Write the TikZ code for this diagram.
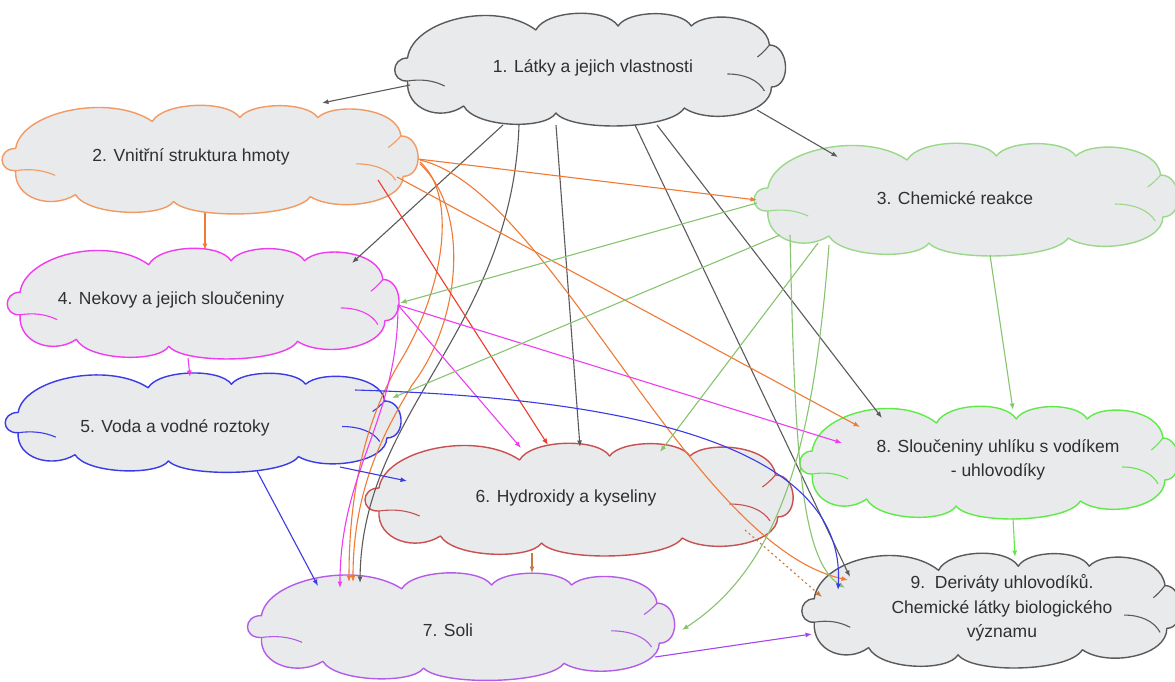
\documentclass[tikz,border=0pt]{standalone}
\usepackage{fontspec}
\setmainfont{Liberation Sans}
\usetikzlibrary{arrows.meta}
\definecolor{cfill}{HTML}{E9EAEC}
\definecolor{cgray}{HTML}{5A5A5A}
\definecolor{corange}{HTML}{F07A35}
\definecolor{corangeb}{HTML}{F29A62}
\definecolor{cred}{HTML}{EE3B2B}
\definecolor{cmag}{HTML}{F03CF0}
\definecolor{clgreen}{HTML}{88C470}
\definecolor{clgreenb}{HTML}{9AD88A}
\definecolor{cblue}{HTML}{3A3AE6}
\definecolor{cbrown}{HTML}{C67A40}
\definecolor{cpurple}{HTML}{A445EE}
\definecolor{cpurpleb}{HTML}{B45CEA}
\definecolor{cbgreen}{HTML}{5EEB48}
\definecolor{cbrownred}{HTML}{C85050}
\definecolor{ctext}{HTML}{303030}
\tikzset{
  cloudline/.style={line width=1.4pt, line join=round},
  lbl/.style={text=ctext, font=\fontsize{17.5}{24.5}\selectfont, align=center, inner sep=0pt},
  conn/.style={line width=1.1pt, -{Latex[length=6.5pt,width=5pt]}},
}
% #1 name, #2 colour, #3 cx, #4 cy, #5 width, #6 height
\newcommand{\cloudnode}[6]{%
  \node[inner sep=0pt, minimum width=#5pt, minimum height=#6pt] (#1) at (#3,#4) {};
  \begin{scope}[shift={(#3,#4)}, xscale=#5/386, yscale=#6/110]
    \draw[cloudline, draw=#2, fill=cfill]
      (-183,-12) .. controls (-178,-50) and (-95,-70) .. (-55,-40)
      .. controls (-45,-60) and (15,-63) .. (27,-44)
      .. controls (37,-60) and (90,-61) .. (100,-44)
      .. controls (115,-60) and (175,-55) .. (178,-25)
      .. controls (198,-25) and (200,17) .. (180,17)
      .. controls (180,45) and (118,55) .. (93,38)
      .. controls (80,60) and (-20,62) .. (-35,43)
      .. controls (-45,60) and (-115,58) .. (-127,36)
      .. controls (-150,52) and (-185,40) .. (-183,11)
      .. controls (-200,12) and (-200,-12) .. (-183,-12) -- cycle;
    \draw[line width=1.1pt, draw=#2] (-183,11) .. controls (-170,9) and (-158,10) .. (-146,16);
    \draw[line width=1.1pt, draw=#2] (136,4) .. controls (153,4) and (167,10) .. (173,21);
    \draw[line width=1.1pt, draw=#2] (178,-25) .. controls (174,-20) and (170,-16) .. (166,-13);
  \end{scope}}
\begin{document}
\begin{tikzpicture}[x=1pt,y=-1pt]
\fill[white] (0,0) rectangle (1175,682);
\useasboundingbox (0,0) rectangle (1175,682);
% clouds
\cloudnode{n1}{cgray}{591}{70}{387}{110}
\cloudnode{n2}{corangeb}{211}{160}{412}{106}
\cloudnode{n3}{clgreenb}{967}{200}{420}{110}
\cloudnode{n4}{cmag}{204}{304}{388}{108}
\cloudnode{n5}{cblue}{204}{423}{392}{97}
\cloudnode{n6}{cbrownred}{580}{500}{424}{110}
\cloudnode{n7}{cpurpleb}{462}{627}{423}{105}
\cloudnode{n8}{cbgreen}{990}{463}{375}{110}
\cloudnode{n9}{cgray}{992}{611}{375}{112}
% connectors from 1
\draw[conn,cgray] ([shift={(-181,15)}]n1.center) -- ([shift={(111,-57)}]n2.center);
\draw[conn,cgray] ([shift={(166,40)}]n1.center) -- ([shift={(-129,-43)}]n3.center);
\draw[conn,cgray] ([shift={(-88,55)}]n1.center) -- ([shift={(148,-41)}]n4.center);
\draw[conn,cgray] ([shift={(-72,55)}]n1.center) .. controls (512,330) and (362,410) .. ([shift={(-102,-44)}]n7.center);
\draw[conn,cgray] ([shift={(-35,55)}]n1.center) -- ([shift={(0,-53)}]n6.center);
\draw[conn,cgray] ([shift={(66,55)}]n1.center) -- ([shift={(-108,-45)}]n8.center);
\draw[conn,cgray] ([shift={(44,55)}]n1.center) -- ([shift={(-142,-34)}]n9.center);
% connectors from 2
\draw[conn,corange] ([shift={(207,-1)}]n2.center) -- ([shift={(-210,0)}]n3.center);
\draw[conn,corange] ([shift={(-6,53)}]n2.center) -- ([shift={(1,-54)}]n4.center);
\draw[conn,corange] ([shift={(186,17)}]n2.center) -- ([shift={(-130,-36)}]n8.center);
\draw[conn,corange] ([shift={(209,0)}]n2.center) .. controls (550,190) and (690,545) .. ([shift={(-144,-31)}]n9.center);
\draw[conn,corange] ([shift={(209,2)}]n2.center) .. controls (458,195) and (445,290) .. (398,365) .. controls (375,405) and (349,470) .. ([shift={(-113,-45)}]n7.center);
\draw[conn,corange] ([shift={(209,4)}]n2.center) .. controls (470,210) and (462,320) .. (412,385) .. controls (392,420) and (353,480) .. ([shift={(-109,-45)}]n7.center);
\draw[conn,cred] ([shift={(167,20)}]n2.center) -- ([shift={(-32,-55)}]n6.center);
% connectors from 4
\draw[conn,cmag] ([shift={(-16,54)}]n4.center) -- ([shift={(-14,-46)}]n5.center);
\draw[conn,cmag] ([shift={(194,1)}]n4.center) -- ([shift={(-59,-52)}]n6.center);
\draw[conn,cmag] ([shift={(194,1)}]n4.center) -- ([shift={(-148,-20)}]n8.center);
\draw[conn,cmag] ([shift={(194,1)}]n4.center) .. controls (398,420) and (340,470) .. ([shift={(-122,-39)}]n7.center);
% connectors from 3
\draw[conn,clgreen] ([shift={(-210,3)}]n3.center) -- ([shift={(196,-1)}]n4.center);
\draw[conn,clgreen] ([shift={(-187,35)}]n3.center) -- ([shift={(188,-25)}]n5.center);
\draw[conn,clgreen] ([shift={(-149,43)}]n3.center) -- ([shift={(80,-48)}]n6.center);
\draw[conn,clgreen] ([shift={(-138,45)}]n3.center) .. controls (815,420) and (790,560) .. ([shift={(220,3)}]n7.center);
\draw[conn,clgreen] ([shift={(-177,35)}]n3.center) .. controls (795,450) and (800,560) .. ([shift={(-147,-23)}]n9.center);
\draw[conn,clgreen] ([shift={(23,55)}]n3.center) -- ([shift={(23,-53)}]n8.center);
% connectors from 5
\draw[conn,cblue] ([shift={(136,44)}]n5.center) -- ([shift={(-173,-19)}]n6.center);
\draw[conn,cblue] ([shift={(53,48)}]n5.center) -- ([shift={(-144,-41)}]n7.center);
\draw[conn,cblue] ([shift={(151,-33)}]n5.center) .. controls (700,400) and (845,470) .. ([shift={(-154,-21)}]n9.center);
% connectors from 6, 7, 8
\draw[conn,cbrown] ([shift={(-48,53)}]n6.center) -- ([shift={(70,-54)}]n7.center);
\draw[conn,cbrown,dash pattern=on 2pt off 3pt] ([shift={(165,30)}]n6.center) -- ([shift={(-170,-14)}]n9.center);
\draw[conn,cpurple] ([shift={(193,30)}]n7.center) -- ([shift={(-180,23)}]n9.center);
\draw[conn,cbgreen] ([shift={(23,55)}]n8.center) -- ([shift={(23,-54)}]n9.center);
% texts
\node[lbl] (t1) at (593,68) {1. Látky a jejich vlastnosti};
\node[lbl] (t2) at (191,157) {2. Vnitřní struktura hmoty};
\node[lbl] (t3) at (955,198) {3. Chemické reakce};
\node[lbl] (t4) at (171,300) {4. Nekovy a jejich sloučeniny};
\node[lbl] (t5) at (175,428) {5. Voda a vodné roztoky};
\node[lbl] (t6) at (566,498) {6. Hydroxidy a kyseliny};
\node[lbl] (t7) at (448,630) {7. Soli};
\node[lbl] (t8) at (998,460) {8. Sloučeniny uhlíku s vodíkem\\- uhlovodíky};
\node[lbl] (t9) at (1002,608) {9.\ \ Deriváty uhlovodíků.\\Chemické látky biologického\\významu};
\end{tikzpicture}
\end{document}
